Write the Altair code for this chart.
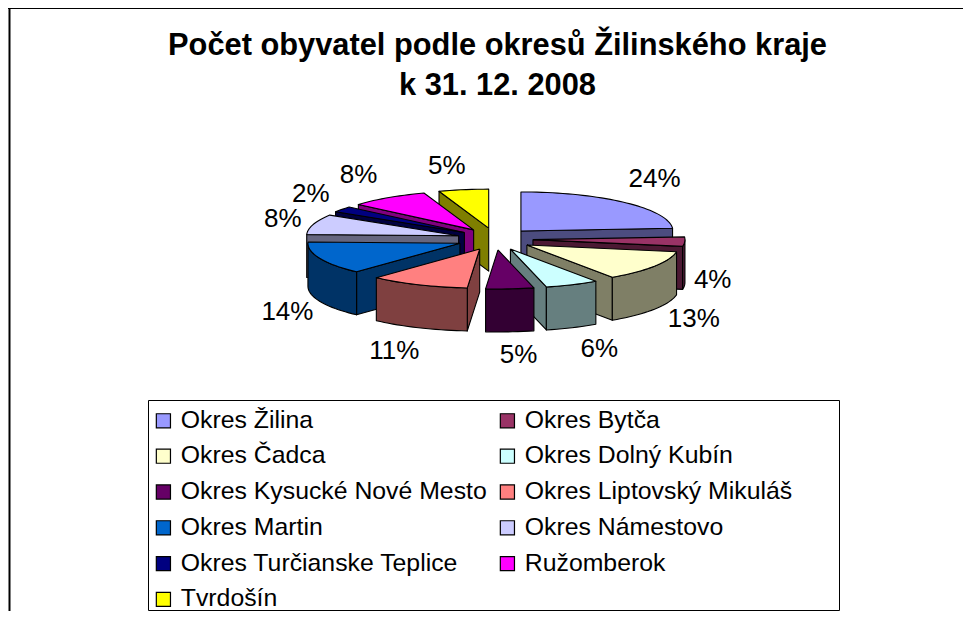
import math
import altair as alt
import pandas as pd

# ---------- data ----------
districts = ["Okres Žilina", "Okres Bytča", "Okres Čadca", "Okres Dolný Kubín",
             "Okres Kysucké Nové Mesto", "Okres Liptovský Mikuláš", "Okres Martin",
             "Okres Námestovo", "Okres Turčianske Teplice", "Ružomberok", "Tvrdošín"]
shares = [23.9, 3.9, 12.7, 5.7, 5.1, 10.6, 13.6, 8.4, 2.4, 8.4, 5.3]
labels = ["24%", "4%", "13%", "6%", "5%", "11%", "14%", "8%", "2%", "8%", "5%"]
colors = ["#9999FF", "#993366", "#FFFFCC", "#CCFFFF", "#660066", "#FF8080",
          "#0066CC", "#CCCCFF", "#000080", "#FF00FF", "#FFFF00"]
title_lines = ["Počet obyvatel podle okresů Žilinského kraje", "k 31. 12. 2008"]

# ---------- layout (reference-pixel space) ----------
W, H = 955, 603
CX, CY = 495.0, 239.0
RX, RY = 152.0, 39.0
EX, EY = 38.0, 11.0
DEPTH = 43.0
LAB_CX, LAB_CY, LAB_RX, LAB_RY = 495.0, 258.0, 225.0, 97.0
label_nudge = [(6, -8), (-7, 17), (10, 8), (13, 2), (6, 0), (-10, 4),
               (0, 17), (3, -11), (-3, -6), (-10, -3), (-11, 4)]
draw_order = [10, 9, 8, 7, 6, 5, 0, 1, 2, 3, 4]
FONT = "Liberation Sans"


def darker(hex_color):
    r, g, b = (int(hex_color[i:i + 2], 16) // 2 for i in (1, 3, 5))
    return f"#{r:02X}{g:02X}{b:02X}"


total = sum(shares)
bounds = [0.0]
for s in shares:
    bounds.append(bounds[-1] + s / total * 360.0)

rows = []
shape_no = 0


def add_poly(points, fill):
    global shape_no
    pts = list(points) + [points[0]]
    for i, (px, py) in enumerate(pts):
        rows.append({"shape": f"{shape_no:03d}", "i": i, "px": px, "py": py, "fill": fill})
    shape_no += 1


def arc_angles(a, b):
    n = max(2, int(abs(b - a) / 2) + 1)
    return [a + (b - a) * k / (n - 1) for k in range(n)]


label_rows = []
for idx in draw_order:
    a1, a2 = bounds[idx], bounds[idx + 1]
    mid = math.radians((a1 + a2) / 2)
    ax = CX + EX * math.sin(mid)
    ay = CY - EY * math.cos(mid)

    def outer(deg, drop=0.0):
        r = math.radians(deg)
        return (ax + RX * math.sin(r), ay - RY * math.cos(r) + drop)

    wall = darker(colors[idx])
    # radial walls that face the viewer
    if a2 < 180:
        add_poly([(ax, ay), outer(a2), outer(a2, DEPTH), (ax, ay + DEPTH)], wall)
    if a1 > 180:
        add_poly([(ax, ay), outer(a1), outer(a1, DEPTH), (ax, ay + DEPTH)], wall)
    # curved outer wall on the front half
    lo, hi = max(a1, 90.0), min(a2, 270.0)
    if lo < hi:
        arc = arc_angles(lo, hi)
        add_poly([outer(d) for d in arc] + [outer(d, DEPTH) for d in reversed(arc)], wall)
    # top face
    add_poly([(ax, ay)] + [outer(d) for d in arc_angles(a1, a2)], colors[idx])

    nx, ny = label_nudge[idx]
    label_rows.append({"label": labels[idx],
                       "px": LAB_CX + LAB_RX * math.sin(mid) + nx,
                       "py": LAB_CY - LAB_RY * math.cos(mid) + ny})

poly_df = pd.DataFrame(rows)
label_df = pd.DataFrame(label_rows)

xs = alt.Scale(domain=[8, 8 + W], range=[0, W])
ys = alt.Scale(domain=[8, 8 + H], range=[0, H])
X = alt.X("px:Q", scale=xs, axis=None)
Y = alt.Y("py:Q", scale=ys, axis=None)

border = alt.Chart(pd.DataFrame({"a": [8], "b": [8 + W]})).mark_rule(
    color="black", strokeWidth=2
).encode(x=alt.X("a:Q", scale=xs, axis=None), x2="b:Q", y=alt.value(0))
border_left = alt.Chart(pd.DataFrame({"a": [9.5], "t": [8], "b": [8 + H]})).mark_rule(
    color="black", strokeWidth=2
).encode(x=alt.X("a:Q", scale=xs, axis=None), y=alt.Y("t:Q", scale=ys, axis=None), y2="b:Q")

box = alt.Chart(pd.DataFrame({"l": [148.5], "r": [839.5], "t": [400.5], "b": [610.5]})).mark_rect(
    fill="white", stroke="black", strokeWidth=1
).encode(x=alt.X("l:Q", scale=xs, axis=None), x2="r:Q",
         y=alt.Y("t:Q", scale=ys, axis=None), y2="b:Q")

pie = alt.Chart(poly_df).mark_line(stroke="black", strokeWidth=1.1, strokeJoin="round").encode(
    x=X, y=Y, detail="shape:N", order="i:Q", fill=alt.Fill("fill:N", scale=None)
)

pct = alt.Chart(label_df).mark_text(font=FONT, fontSize=26, color="black").encode(
    x=X, y=Y, text="label:N"
)

legend_df = pd.DataFrame({"name": districts, "px": [20] * 11, "py": [20] * 11})
key = alt.Chart(legend_df).mark_point(opacity=0, filled=True, shape="square").encode(
    x=X, y=Y,
    fill=alt.Fill(
        "name:N",
        scale=alt.Scale(domain=districts, range=colors),
        legend=alt.Legend(
            title=None, orient="none", legendX=143, legendY=400, columns=2,
            direction="horizontal", symbolType="square", symbolSize=200,
            symbolOpacity=1, symbolStrokeColor="black", symbolStrokeWidth=1.2,
            labelFont=FONT, labelFontSize=24.8, labelColor="black", labelLimit=400,
            labelOffset=5, rowPadding=9.8, columnPadding=8, padding=0, gridAlign="each",
        ),
    ),
)

chart = alt.layer(border, border_left, box, pie, pct, key).properties(
    width=W, height=H, padding=0, autosize=alt.AutoSizeParams(type="none"),
    background="white",
    title=alt.TitleParams(text=title_lines, font=FONT, fontSize=30.8, fontWeight="bold",
                          color="black", anchor="middle", dx=12, offset=-95, lineHeight=40),
).configure_view(stroke=None)

chart.save("out.html", embed_options={"renderer": "svg", "actions": False})
